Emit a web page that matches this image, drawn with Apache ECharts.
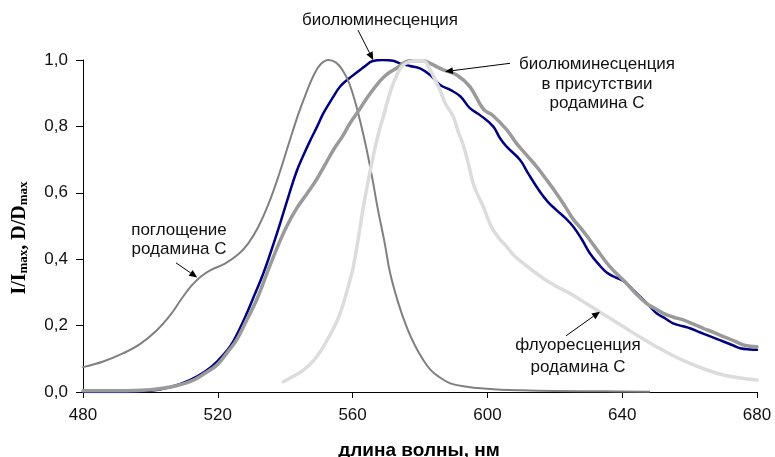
<!DOCTYPE html>
<html><head><meta charset="utf-8">
<script src="https://cdn.jsdelivr.net/npm/echarts@6/dist/echarts.min.js"></script>
<style>html,body{margin:0;padding:0;background:#fff}#c{width:775px;height:457px}</style>
</head><body><div id="c"></div>
<script>
// ---- data (wavelength, nm / normalized value) ----
const absWl  = [480,486,492,497,502,506,509,512,515,518,522,526,529,532,535,538,541.4,544,546.4,548.5,550.5,552.8,555,557,559,561,562.5,564.2,566,567.5,569.5,571.1,573.5,576,578.5,581,583,585,589,594,598,604,610,620,635,648];
const absVal = [0.075,0.092,0.117,0.145,0.187,0.233,0.277,0.318,0.348,0.368,0.386,0.414,0.447,0.497,0.565,0.65,0.759,0.84,0.905,0.955,0.987,1.0,0.993,0.97,0.93,0.865,0.805,0.729,0.635,0.55,0.45,0.36,0.27,0.197,0.14,0.096,0.068,0.05,0.026,0.016,0.011,0.007,0.005,0.003,0.002,0.001];

const bioWl  = [480,490,500,506,511.7,516,519.7,523.6,526,528.6,531,533.5,536,538.5,541,543.4,545.5,547.3,549.5,551.3,554,556.3,559,561.2,563.5,566,569,572,574,577,580,583,586,589,592,594.8,597.8,601.7,603.7,605.7,609.7,612,615.6,618,620.5,623,625.5,628,630.4,633,635.4,638,640.3,643,645.3,648,650.2,653,655.1,658,660.1,663,665,668,670,673,675,678,680];
const bioVal = [0.0,0.0,0.004,0.015,0.036,0.06,0.091,0.136,0.18,0.237,0.295,0.357,0.43,0.508,0.59,0.665,0.715,0.755,0.80,0.839,0.885,0.92,0.945,0.962,0.98,0.997,1.0,0.998,0.99,0.982,0.975,0.955,0.925,0.91,0.89,0.855,0.834,0.80,0.765,0.739,0.699,0.66,0.603,0.572,0.548,0.525,0.498,0.46,0.418,0.385,0.36,0.345,0.335,0.31,0.287,0.26,0.237,0.22,0.207,0.198,0.192,0.18,0.172,0.16,0.152,0.14,0.132,0.128,0.127];

const rhoWl  = [480,490,500,506,511.7,516,519.7,522.5,525.6,528.5,531.5,534.5,537.5,540.5,543.4,546.5,549.3,552,554.3,557,559.2,562,564.2,567,569.1,571,573.1,575,577,581,583,586.9,590.9,594.8,598.8,601.7,605.7,608.7,611.5,614.6,617.5,620.5,623,625.5,628,630.4,633.5,636.4,639,641.3,644,647.2,650,652.2,655,658.1,661,664,667,670,673,675.9,678,680];
const rhoVal = [0.004,0.004,0.007,0.015,0.031,0.055,0.081,0.115,0.157,0.215,0.277,0.355,0.432,0.50,0.553,0.598,0.64,0.688,0.729,0.77,0.809,0.85,0.885,0.923,0.947,0.963,0.976,0.99,0.998,0.998,0.99,0.97,0.955,0.92,0.852,0.832,0.79,0.748,0.715,0.679,0.64,0.598,0.56,0.52,0.49,0.458,0.415,0.377,0.35,0.327,0.297,0.267,0.25,0.237,0.226,0.217,0.205,0.192,0.18,0.167,0.155,0.142,0.138,0.136];

const fluWl  = [539.4,542,545.4,548.5,551.3,554,556.3,558.5,560.2,561.8,563.2,564.7,566.1,567.6,569.1,570.6,572.1,573.6,575,577,579,581,583,584.5,585.9,587.5,589.9,591.3,592.8,594.3,595.8,597.3,598.8,600.2,601.7,603.7,605.7,608,610.6,613.5,616.6,620.5,624.5,628.5,632.4,636.4,640.3,645,650.2,655,660.1,665,670,675,680];
const fluVal = [0.031,0.045,0.066,0.095,0.136,0.185,0.237,0.31,0.377,0.47,0.558,0.64,0.709,0.775,0.829,0.885,0.93,0.965,0.985,0.995,0.998,0.998,0.97,0.94,0.91,0.87,0.829,0.785,0.745,0.69,0.628,0.59,0.558,0.52,0.488,0.46,0.438,0.41,0.388,0.365,0.342,0.318,0.297,0.272,0.247,0.222,0.197,0.167,0.136,0.11,0.086,0.067,0.051,0.042,0.036];

const xTicks = [480,520,560,600,640,680];
const yTicks = [0,0.2,0.4,0.6,0.8,1.0];

// annotations: text lines (pixel centres) and arrows in data coordinates [tail, tip]
const notes = [
  {lines:['биолюминесценция'], x:380, y:[20], arrow:[[561.6,1.09],[566.1,1.0]]},
  {lines:['биолюминесценция','в присутствии','родамина С'], x:597, y:[64,84,103], arrow:[[606.7,0.99],[587.4,0.965]]},
  {lines:['поглощение','родамина С'], x:179, y:[230.5,249.5], arrow:[[507.6,0.389],[513.9,0.345]]},
  {lines:['флуоресценция','родамина С'], x:578, y:[345.5,367], arrow:[[623.3,0.169],[633.4,0.242]]}
];

const pairs = (xs, ys) => xs.map((x, i) => [x, ys[i]]);
const FONT = 'Liberation Sans, Arial, sans-serif';

const chart = echarts.init(document.getElementById('c'), null, {renderer:'canvas'});
const lineS = (name, xs, ys, color, width, z) => ({
  name, type:'line', data: pairs(xs, ys), showSymbol:false, symbol:'none',
  smooth:0.4, z,
  lineStyle:{color, width, cap:'round', join:'round'}, silent:true
});

chart.setOption({
  animation:false,
  backgroundColor:'#ffffff',
  grid:{left:83, right:18, top:60, bottom:65, containLabel:false},
  xAxis:{
    type:'value', min:480, max:680, interval:40,
    axisLine:{show:true, onZero:false, lineStyle:{color:'#000', width:1}},
    axisTick:{show:true, length:6, lineStyle:{color:'#000'}},
    splitLine:{show:false},
    axisLabel:{margin:15, color:'#111', fontSize:17, fontFamily:FONT,
      formatter: v => xTicks.includes(v) ? String(v) : ''}
  },
  yAxis:{
    type:'value', min:0, max:1, interval:0.2,
    axisLine:{show:true, lineStyle:{color:'#000', width:1}},
    axisTick:{show:true, length:7, lineStyle:{color:'#000'}},
    splitLine:{show:false},
    axisLabel:{margin:15, color:'#111', fontSize:17, fontFamily:FONT,
      formatter: v => yTicks.some(t => Math.abs(t - v) < 1e-9) ? v.toFixed(1).replace('.', ',') : ''}
  },
  series:[
    lineS('биолюминесценция', bioWl, bioVal, '#000080', 2.5, 2),
    lineS('поглощение родамина С', absWl, absVal, '#808080', 2, 3),
    lineS('биолюминесценция в присутствии родамина С', rhoWl, rhoVal, '#9a9a9a', 3.5, 4),
    lineS('флуоресценция родамина С', fluWl, fluVal, '#dcdcdc', 3.5, 5)
  ]
});

// build annotation graphics
const g = [];
notes.forEach(n => {
  n.lines.forEach((t, i) => g.push({type:'text', silent:true, z:20, x:n.x, y:n.y[i],
    style:{text:t, fill:'#111', font:'17px ' + FONT, align:'center', verticalAlign:'middle'}}));
  const a = chart.convertToPixel({gridIndex:0}, n.arrow[0]);
  const b = chart.convertToPixel({gridIndex:0}, n.arrow[1]);
  const dx = b[0]-a[0], dy = b[1]-a[1], L = Math.hypot(dx, dy), ux = dx/L, uy = dy/L;
  const hl = 8, hw = 3.5;
  const bx = b[0]-ux*hl, by = b[1]-uy*hl;
  g.push({type:'line', silent:true, z:20, shape:{x1:a[0], y1:a[1], x2:bx, y2:by}, style:{stroke:'#000', lineWidth:1}});
  g.push({type:'polygon', silent:true, z:20, shape:{points:[[b[0],b[1]],[bx-uy*hw, by+ux*hw],[bx+uy*hw, by-ux*hw]]}, style:{fill:'#000'}});
});
// axis titles
g.push({type:'text', silent:true, z:20, x:20, y:238, rotation:Math.PI/2,
  style:{text:'{a|I/I}{s|max}{a|, D/D}{s|max}', align:'center', verticalAlign:'middle',
    rich:{a:{fontSize:20, fontFamily:'Liberation Serif, Times New Roman, serif', fontWeight:'bold', fill:'#000', lineHeight:20, padding:[0,0,1,0], verticalAlign:'top'},
          s:{fontSize:13, fontFamily:'Liberation Serif, Times New Roman, serif', fontWeight:'bold', fill:'#000', lineHeight:13, verticalAlign:'bottom'}}}});
g.push({type:'text', silent:true, z:20, x:419, y:451,
  style:{text:'длина волны, нм', fill:'#000', font:'bold 19px ' + FONT, align:'center', verticalAlign:'middle'}});
chart.setOption({graphic:g});
</script>
</body></html>
